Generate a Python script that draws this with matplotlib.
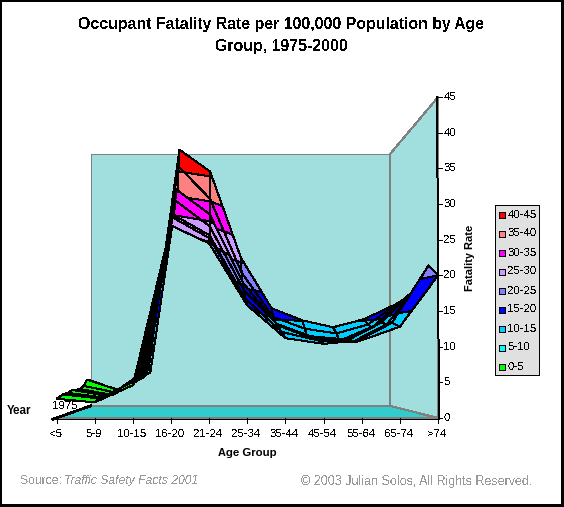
import matplotlib
matplotlib.use("Agg")
import matplotlib.pyplot as plt
from matplotlib.collections import PolyCollection
from matplotlib.patches import Polygon, Rectangle

plt.rcParams['font.family'] = ['Liberation Sans', 'DejaVu Sans']
plt.rcParams['text.antialiased'] = False
plt.rcParams['text.hinting'] = 'native'

# Occupant fatality rates: one list per age group, one value per surface row
years = [1975, 1978, 1981, 1984, 1987, 1990, 1993, 1996, 2000]
under_5 = [4.4, 4.8, 3.8, 3.4, 3.4, 3.5, 3.2, 3.1, 2.7]
age_5_9 = [2.8, 3.0, 2.7, 2.4, 2.6, 2.6, 2.5, 2.5, 2.2]
age_10_15 = [6.0, 6.8, 6.2, 5.5, 5.6, 5.4, 5.2, 5.2, 4.6]
age_16_20 = [42.0, 44.8, 41.0, 36.0, 35.5, 33.0, 30.0, 29.0, 27.0]
age_21_24 = [37.0, 41.0, 35.5, 31.0, 31.5, 29.0, 27.0, 26.0, 24.5]
age_25_34 = [23.5, 26.0, 23.0, 20.0, 20.5, 19.0, 17.5, 17.0, 15.8]
age_35_44 = [15.5, 17.2, 15.5, 13.5, 14.0, 13.5, 12.5, 12.2, 11.2]
age_45_54 = [13.5, 15.1, 13.5, 12.0, 12.0, 11.5, 11.0, 11.0, 10.4]
age_55_64 = [13.0, 13.9, 12.7, 11.3, 11.5, 11.2, 10.8, 10.8, 10.9]
age_65_74 = [14.5, 15.3, 14.2, 13.5, 13.8, 14.0, 13.5, 13.6, 12.8]
over_74 = [17.5, 17.8, 18.0, 18.3, 18.8, 19.3, 20.3, 22.0, 20.0]
rates = [under_5, age_5_9, age_10_15, age_16_20, age_21_24, age_25_34,
         age_35_44, age_45_54, age_55_64, age_65_74, over_74]

age_labels = ['<5', '5-9', '10-15', '16-20', '21-24', '25-34',
              '35-44', '45-54', '55-64', '65-74', '>74']
rate_ticks = [0, 5, 10, 15, 20, 25, 30, 35, 40, 45]
tick_years = list(range(1975, 2001))
band_edges = [0, 5, 10, 15, 20, 25, 30, 35, 40, 45]
band_labels = ['0-5', '5-10', '10-15', '15-20', '20-25', '25-30', '30-35', '35-40', '40-45']
band_colors = ['#00ff00', '#00ffff', '#00ccff', '#0000ff', '#8080ff',
               '#cc99ff', '#ff00ff', '#ff8080', '#ff0000']

# Perspective projection: page pixels with the y axis pointing down
X0, X_STEP = 56.5, 38.15
Y0, Y_STEP = 418.0, 7.13
VX, VY = 214.6, 362.0
DEPTH_K = 0.274
THIN = 0.72


def depth_of(year):
    return (2000 - year) / 25.0


def project(age_pos, depth, value):
    s = 1.0 / (1.0 + DEPTH_K * depth)
    xf = X0 + X_STEP * age_pos
    yf = Y0 - Y_STEP * value
    return VX + (xf - VX) * s, VY + (yf - VY) * s


def clip(poly, level, keep_above):
    """Clip a polygon of (age, depth, value) vertices at a value level."""
    out = []
    for k, p in enumerate(poly):
        q = poly[(k + 1) % len(poly)]
        p_in = p[2] >= level if keep_above else p[2] <= level
        q_in = q[2] >= level if keep_above else q[2] <= level
        if p_in:
            out.append(p)
        if p_in != q_in:
            t = (level - p[2]) / (q[2] - p[2])
            out.append(tuple(a + t * (b - a) for a, b in zip(p, q)))
    return out


fig = plt.figure(figsize=(5.64, 5.07), dpi=100, facecolor='white')
ax = fig.add_axes([0, 0, 1, 1])
ax.set_xlim(0, 564)
ax.set_ylim(507, 0)
ax.axis('off')

# Page border, heavier on the right and bottom
ax.add_patch(Rectangle((0, 0), 564, 507, fc='black', ec='none', zorder=0))
ax.add_patch(Rectangle((2, 2), 559, 502, fc='white', ec='none', zorder=0.5))

# Back wall, side wall and floor
wall = '#a1dfdf'
grey = '#808080'
bl = project(0, 1, 0)
br = project(10, 1, 0)
tl = project(0, 1, 45)
tr = project(10, 1, 45)
fl = project(0, 0, 0)
fr = project(10, 0, 0)
ftr = project(10, 0, 45)
ax.add_patch(Polygon([tl, tr, br, bl], fc=wall, ec=grey, lw=THIN, zorder=1, antialiased=False))
ax.add_patch(Polygon([tr, ftr, fr, br], fc=wall, ec=grey, lw=THIN, zorder=1, antialiased=False))
ax.add_patch(Polygon([fl, fr, br, bl], fc='#33cccc', ec=grey, lw=THIN, zorder=1, antialiased=False))

# Surface, cut into value bands and painted from back to front
cells = []
for j in range(len(years) - 1):
    for i in range(len(age_labels) - 1):
        cells.append((j, i))
cells.sort(key=lambda c: (c[0], -abs(project(c[1] + 0.5, depth_of(years[c[0]]), 0)[0] - VX)))

verts, faces = [], []
for j, i in cells:
    d0, d1 = depth_of(years[j]), depth_of(years[j + 1])
    quad = [(i, d0, rates[i][j]), (i + 1, d0, rates[i + 1][j]),
            (i + 1, d1, rates[i + 1][j + 1]), (i, d1, rates[i][j + 1])]
    for b, color in enumerate(band_colors):
        piece = clip(quad, band_edges[b], True)
        if piece:
            piece = clip(piece, band_edges[b + 1], False)
        if len(piece) >= 3:
            verts.append([project(*p) for p in piece])
            faces.append(color)
ax.add_collection(PolyCollection(verts, facecolors=faces, edgecolors='black',
                                 linewidths=THIN, antialiased=False, zorder=3))

# Age axis
ax.plot([fl[0] - 3, fr[0]], [fl[1] + 0.8, fr[1] + 0.8], color='black', lw=THIN, zorder=4, antialiased=False)
for i, label in enumerate(age_labels):
    x, y = project(i, 0, 0)
    ax.plot([x, x], [y, y + 5], color='black', lw=THIN, zorder=4, antialiased=False)
    ax.text(x - 1, y + 16, label, ha='center', va='center', fontsize=8.2, color='black')

# Rate axis
ax.plot([437, 439], [97, 419], color='black', lw=THIN, zorder=4, antialiased=False)
for v in rate_ticks:
    x, y = project(10, 0, v)
    ax.plot([x, x + 4], [y, y], color='black', lw=THIN, zorder=4, antialiased=False)
    ax.text(x + 5.5, y, str(v), ha='left', va='center', fontsize=8.2, color='black')

# Year axis: one tick per year along the floor's left edge
ax.plot([fl[0] - 3, bl[0]], [fl[1] + 1, bl[1]], color='black', lw=1.2, zorder=4, antialiased=False)
for yr in tick_years:
    x, y = project(0, depth_of(yr), 0)
    ax.plot([x - 4, x], [y + 1, y], color='black', lw=THIN, zorder=4, antialiased=False)
ax.text(78, 406, str(years[0]), ha='right', va='center', fontsize=8.2, color='black', zorder=5)

# Titles and notes
ax.text(281.5, 25, 'Occupant Fatality Rate per 100,000 Population by Age', ha='center', va='center',
        fontsize=11.4, fontweight='bold', color='black')
ax.text(281.5, 46, 'Group, 1975-2000', ha='center', va='center', fontsize=11.4, fontweight='bold', color='black')
ax.text(247, 453, 'Age Group', ha='center', va='center', fontsize=8.2, fontweight='bold',
        color='black', antialiased=True)
ax.text(7, 411, 'Year', ha='left', va='center', fontsize=8.4, fontweight='bold', color='black', antialiased=True)
ax.text(470, 258, 'Fatality Rate', ha='center', va='center', rotation=90, fontsize=8.0, fontweight='bold',
        color='black', antialiased=True)
ax.text(19.5, 481, 'Source: ', ha='left', va='center', fontsize=8.7, color='#999999')
ax.text(64, 481, 'Traffic Safety Facts 2001', ha='left', va='center', fontsize=8.7,
        fontstyle='italic', color='#999999')
ax.text(532, 482, '\u00a9 2003 Julian Solos, All Rights Reserved.', ha='right', va='center',
        fontsize=9, color='#999999')

# Legend
ax.add_patch(Rectangle((494.5, 204.5), 44.5, 170.5, fc='#e0e0e0', ec='black', lw=THIN, zorder=4, antialiased=False))
for k, (label, color) in enumerate(zip(band_labels[::-1], band_colors[::-1])):
    y = 214.5 + 19 * k
    ax.add_patch(Rectangle((498.5, y - 3), 6, 6, fc=color, ec='black', lw=THIN, zorder=5, antialiased=False))
    ax.text(507.5, y, label, ha='left', va='center', fontsize=8.2, color='black', zorder=5)

fig.savefig('out.png', dpi=100, facecolor='white')
